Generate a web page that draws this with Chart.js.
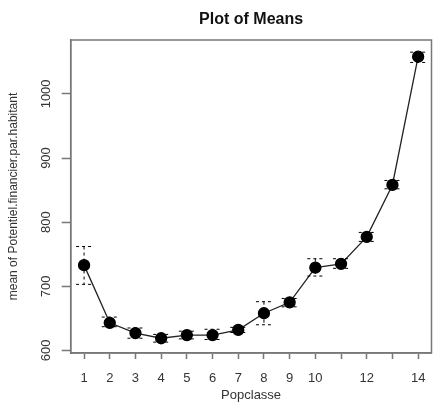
<!DOCTYPE html>
<html>
<head>
<meta charset="utf-8">
<script src="https://cdn.jsdelivr.net/npm/chart.js"></script>
<style>
  html, body { margin: 0; padding: 0; background: #fff; }
  #wrap { width: 433px; height: 402px; }
</style>
</head>
<body>
<div id="wrap"><canvas id="means"></canvas></div>
<script>
// data
var popclasse = [1, 2, 3, 4, 5, 6, 7, 8, 9, 10, 11, 12, 13, 14];
var means = [733, 643, 627, 619, 624, 624, 632, 658, 675, 729, 735, 777, 858, 1058];
var upper = [762, 652, 635, 625, 630, 633, 636, 676, 681, 743, 743, 784, 865, 1065];
var lower = [703, 637, 619, 613, 618, 617, 628, 640, 668, 716, 728, 770, 852, 1049];
var yTicks = [600, 700, 800, 900, 1000];
var xLabels = [1, 2, 3, 4, 5, 6, 7, 8, 9, 10, 12, 14];   // R drops 11 and 13 (overlap)

var axisColor = '#777';
var textColor = '#333';
var fontFam = '"Liberation Sans", Arial, sans-serif';

var points = popclasse.map(function(x, i){ return { x: x, y: means[i] }; });

// error bars, dashed like R plotMeans
var errorBars = {
	id: 'errorBars',
	afterDatasetsDraw: function(chart){
		var ctx = chart.ctx;
		var xs = chart.scales.x, ys = chart.scales.y;
		ctx.save();
		ctx.strokeStyle = '#000';
		ctx.lineWidth = 1;
		ctx.setLineDash([3, 3]);
		for (var i = 0; i < popclasse.length; i++) {
			var px = xs.getPixelForValue(popclasse[i]);
			var pu = ys.getPixelForValue(upper[i]);
			var pl = ys.getPixelForValue(lower[i]);
			ctx.beginPath();
			ctx.moveTo(px, pu); ctx.lineTo(px, pl);
			ctx.moveTo(px - 8, pu); ctx.lineTo(px + 8, pu);
			ctx.moveTo(px - 8, pl); ctx.lineTo(px + 8, pl);
			ctx.stroke();
		}
		ctx.restore();
	}
};

// box, tick labels (y ones rotated like R), title
var frame = {
	id: 'frame',
	afterDraw: function(chart){
		var ctx = chart.ctx, a = chart.chartArea;
		var xs = chart.scales.x, ys = chart.scales.y;
		ctx.save();
		ctx.strokeStyle = axisColor;
		ctx.lineWidth = 1.5;
		ctx.strokeRect(a.left, a.top, a.right - a.left, a.bottom - a.top);

		ctx.fillStyle = textColor;
		ctx.font = '13px ' + fontFam;
		ctx.textAlign = 'center';
		ctx.textBaseline = 'middle';
		yTicks.forEach(function(v){
			var py = ys.getPixelForValue(v);
			ctx.save();
			ctx.translate(46, py);
			ctx.rotate(-Math.PI / 2);
			ctx.fillText(String(v), 0, 0);
			ctx.restore();
		});
		xLabels.forEach(function(v){
			ctx.fillText(String(v), xs.getPixelForValue(v), a.bottom + 25);
		});

		ctx.fillStyle = '#111';
		ctx.font = 'bold 16px ' + fontFam;
		ctx.fillText('Plot of Means', (a.left + a.right) / 2, 20);
		ctx.restore();
	}
};

new Chart(document.getElementById('means'), {
	type: 'line',
	data: {
		datasets: [{
			data: points,
			borderColor: '#222',
			borderWidth: 1.3,
			pointBackgroundColor: '#000',
			pointBorderColor: '#000',
			pointRadius: 5.5,
			pointHoverRadius: 5.5,
			tension: 0
		}]
	},
	options: {
		responsive: true,
		maintainAspectRatio: false,
		animation: false,
		layout: { autoPadding: false, padding: { top: 40, right: 1.5, left: 0, bottom: 0 } },
		plugins: { legend: { display: false }, tooltip: { enabled: false } },
		scales: {
			x: {
				type: 'linear',
				min: 0.48,
				max: 14.52,
				afterFit: function(s){ s.height = 49; },
				border: { display: true, color: axisColor, width: 1.5 },
				grid: { drawOnChartArea: false, drawTicks: true, tickLength: 6, color: axisColor, tickWidth: 1.5 },
				ticks: {
					stepSize: 1,
					includeBounds: false,
					autoSkip: false,
					display: false
				},
				title: {
					display: true,
					text: 'Popclasse',
					color: textColor,
					font: { family: fontFam, size: 13, lineHeight: 1 },
					padding: { top: 0, bottom: 0 }
				}
			},
			y: {
				min: 596,
				max: 1084,
				afterFit: function(s){ s.width = 70.7; },
				border: { display: true, color: axisColor, width: 1.5 },
				grid: { drawOnChartArea: false, drawTicks: true, tickLength: 9, color: axisColor, tickWidth: 1.5 },
				ticks: {
					stepSize: 100,
					includeBounds: false,
					display: false
				},
				title: {
					display: true,
					text: 'mean of Potentiel.financier.par.habitant',
					color: textColor,
					font: { family: fontFam, size: 12, lineHeight: 1 },
					padding: { top: 8, bottom: 0 }
				}
			}
		}
	},
	plugins: [errorBars, frame]
});
</script>
</body>
</html>
